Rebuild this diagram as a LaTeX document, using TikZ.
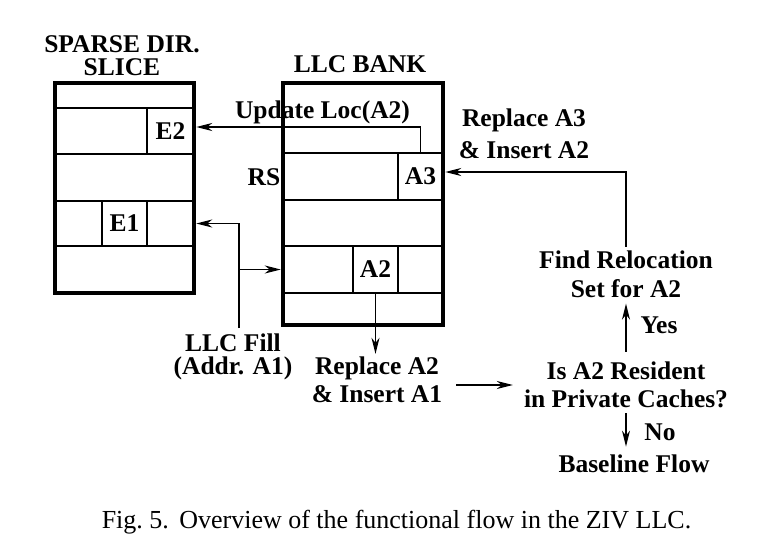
\documentclass[tikz,border=0pt]{standalone}
\usepackage{fontspec}
\setmainfont{Liberation Serif}
\usetikzlibrary{arrows.meta,positioning}
\newcommand{\bfs}[1]{\bfseries\fontsize{25.5}{#1}\selectfont}

\tikzset{
  lbl/.style={font=\bfs{28},align=center,inner sep=0pt},
  bank/.style={draw,line width=4.5pt,inner sep=0pt},
  cell/.style={draw,line width=1.4pt,inner sep=0pt,font=\bfs{28}},
  arr/.style={line width=1.4pt,-{Stealth[length=16pt,width=8pt,inset=5pt]}},
}

\begin{document}
\begin{tikzpicture}[x=1pt,y=-1pt]
  \useasboundingbox (0,0) rectangle (771,546);
  % sparse directory slice
  \node[bank,minimum width=139pt,minimum height=210pt] (slice) at (124.5,188) {};
  \foreach \y in {108,154,201,246} \draw[line width=1.4pt] (55,\y) -- (194,\y);
  \node[cell,minimum width=47pt,minimum height=46pt] (E2) at (170.5,131) {E2};
  \node[cell,minimum width=45pt,minimum height=45pt] (E1) at (124.5,223.5) {E1};
  % llc bank
  \node[bank,minimum width=160pt,minimum height=242pt] (llc) at (363,204) {};
  \foreach \y in {153,200,246,293} \draw[line width=1.4pt] (283,\y) -- (443,\y);
  \node[cell,minimum width=45pt,minimum height=47pt] (A3) at (420.5,176.5) {A3};
  \node[cell,minimum width=45pt,minimum height=47pt] (A2) at (375.5,269.5) {A2};
  % labels
  \node[lbl,font=\bfs{23}] (tslice) at (122,56) {SPARSE DIR.\\SLICE};
  \node[lbl,anchor=base] (tllc) at (360,72) {LLC BANK};
  \node[lbl,anchor=base] (upd) at (322.5,118) {Update Loc(A2)};
  \node[lbl,anchor=base] (rs) at (264,185) {RS};
  \node[lbl,font=\bfs{32}] (repA3) at (524,134) {Replace A3\\\& Insert A2};
  \node[lbl,font=\bfs{29}] (find) at (626,274) {Find Relocation\\Set for A2};
  \node[lbl] (res) at (626,385) {Is A2 Resident\\in Private Caches?};
  \node[lbl] (repA2) at (377,380) {Replace A2\\\& Insert A1};
  \node[lbl,font=\bfs{23}] (fill) at (233,357) {LLC Fill\\(Addr. A1)};
  \node[lbl,anchor=base] (base) at (634,472) {Baseline Flow};
  \node[lbl,anchor=base] (yes) at (659,333) {Yes};
  \node[lbl,anchor=base] (no) at (660,440) {No};
  \node[font=\fontsize{26}{28}\selectfont,anchor=base,inner sep=0pt] (cap) at (396.5,528)
    {Fig.~5.\hspace{0.4em}Overview of the functional flow in the ZIV LLC.};
  % connectors
  \coordinate (updend) at (0,127);
  \coordinate (relend) at (0,172);
  \coordinate (fillpt) at (239,328);
  \draw[arr] (A3.north) |- (slice.east |- updend);
  \draw[arr] (fillpt) |- (slice.east |- E1);
  \draw[arr] (fillpt |- A2) -- (llc.west |- A2);
  \draw[arr,shorten >=3pt] (A2.south) -- (A2.south |- repA2.north);
  \draw[arr,shorten <=14pt,shorten >=11pt] (repA2.east |- res.west) -- (res.west);
  \draw[arr,shorten <=10pt,shorten >=6pt] (res.north) -- (res.north |- find.south);
  \draw[arr,shorten <=5pt,shorten >=7.5pt] (res.south) -- (res.south |- base.north);
  \draw[arr,shorten <=3.5pt] (find.north) |- (llc.east |- relend);
\end{tikzpicture}
\end{document}
